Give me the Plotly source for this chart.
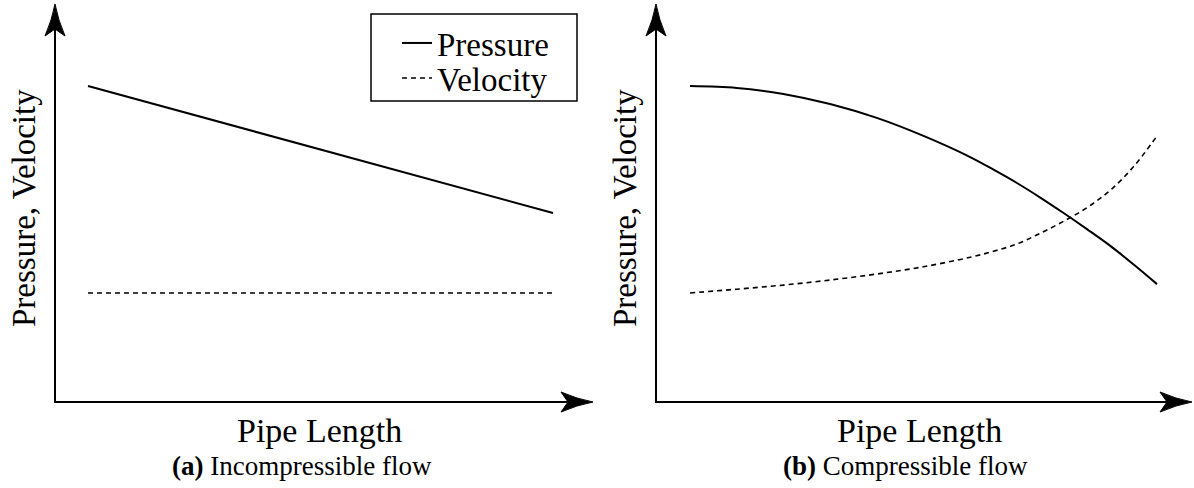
import plotly.graph_objects as go

# ---- data (arbitrary units: pipe position 0..1, quantity relative to inlet pressure) ----
length_a = [0.0, 1.0]
pressure_a = [1.0, 0.598]
velocity_a = [0.345, 0.345]

length_b = [0.0, 0.1, 0.2, 0.3, 0.4, 0.5, 0.6, 0.65, 0.7, 0.75, 0.8, 0.85, 0.9, 0.95, 1.0]
pressure_b = [1.0, 0.994, 0.975, 0.943, 0.899, 0.842, 0.775, 0.735, 0.693, 0.647, 0.598, 0.547,
              0.494, 0.435, 0.373]
velocity_b = [0.345, 0.357, 0.370, 0.386, 0.405, 0.428, 0.458, 0.477, 0.500, 0.534, 0.572, 0.615,
              0.670, 0.745, 0.842]

series_names = ["Pressure", "Velocity"]
x_title = "Pipe Length"
y_title = "Pressure, Velocity"
captions = ["<b>(a)</b> Incompressible flow", "<b>(b)</b> Compressible flow"]

# ---- page geometry (pixels) ----
W, H = 1194, 488
FONT = "'Liberation Serif', 'DejaVu Serif', serif"


def fx(px):
    return px / W


def fy(py):
    return 1 - py / H


# panel layout: axis origin, arrow tips, and pixel positions of x=0 / x=1
panels = [
    dict(x0=55, xtip=593, y0=402, ytip=4, u0=88, u1=553),
    dict(x0=656, xtip=1192, y0=402, ytip=4, u0=690, u1=1157),
]
Y_UNIT = 316  # pixels per unit on the vertical axis

fig = go.Figure()

data = [(length_a, pressure_a, velocity_a), (length_b, pressure_b, velocity_b)]
for i, (xs, p, v) in enumerate(data):
    ax = "x" if i == 0 else "x2"
    ay = "y" if i == 0 else "y2"
    fig.add_trace(go.Scatter(
        x=xs, y=p, mode="lines", name=series_names[0], xaxis=ax, yaxis=ay, legend="legend",
        line=dict(color="black", width=2, shape="spline", smoothing=1.0), showlegend=(i == 0)))
    fig.add_trace(go.Scatter(
        x=xs, y=v, mode="lines", name=series_names[1], xaxis=ax, yaxis=ay, legend="legend2",
        line=dict(color="black", width=1.6, dash="5px,4px", shape="spline", smoothing=1.0),
        showlegend=(i == 0)))

shapes = []
annotations = []
for i, pn in enumerate(panels):
    sfx = "" if i == 0 else "2"
    upx = pn["u1"] - pn["u0"]
    xr = [-(pn["u0"] - pn["x0"]) / upx, (pn["xtip"] - pn["u0"]) / upx]
    yr = [0, (pn["y0"] - pn["ytip"]) / Y_UNIT]
    axis_common = dict(showgrid=False, zeroline=False, showticklabels=False,
                       ticks="", showline=False, fixedrange=True)
    fig.layout["xaxis" + sfx] = dict(domain=[fx(pn["x0"]), fx(pn["xtip"])], range=xr,
                                     anchor="y" + sfx, **axis_common)
    fig.layout["yaxis" + sfx] = dict(domain=[fy(pn["y0"]), fy(pn["ytip"])], range=yr,
                                     anchor="x" + sfx, **axis_common)

    # axis lines
    shapes.append(dict(type="line", xref="paper", yref="paper",
                       x0=fx(pn["x0"]), y0=fy(pn["y0"]), x1=fx(pn["xtip"] - 20), y1=fy(pn["y0"]),
                       line=dict(color="black", width=2)))
    shapes.append(dict(type="line", xref="paper", yref="paper",
                       x0=fx(pn["x0"]), y0=fy(pn["y0"] + 1), x1=fx(pn["x0"]), y1=fy(pn["ytip"] + 20),
                       line=dict(color="black", width=2)))

    # stealth-style arrowheads
    tx, ty = pn["xtip"], pn["y0"]
    path_x = (f"M {fx(tx)},{fy(ty)} "
              f"Q {fx(tx - 16)},{fy(ty - 3)} {fx(tx - 32)},{fy(ty - 10)} "
              f"L {fx(tx - 25)},{fy(ty)} "
              f"L {fx(tx - 32)},{fy(ty + 10)} "
              f"Q {fx(tx - 16)},{fy(ty + 3)} {fx(tx)},{fy(ty)} Z")
    shapes.append(dict(type="path", xref="paper", yref="paper", path=path_x,
                       fillcolor="black", line=dict(color="black", width=1)))
    tx, ty = pn["x0"], pn["ytip"]
    path_y = (f"M {fx(tx)},{fy(ty)} "
              f"Q {fx(tx - 3)},{fy(ty + 16)} {fx(tx - 10)},{fy(ty + 32)} "
              f"L {fx(tx)},{fy(ty + 25)} "
              f"L {fx(tx + 10)},{fy(ty + 32)} "
              f"Q {fx(tx + 3)},{fy(ty + 16)} {fx(tx)},{fy(ty)} Z")
    shapes.append(dict(type="path", xref="paper", yref="paper", path=path_y,
                       fillcolor="black", line=dict(color="black", width=1)))

    # axis titles
    annotations.append(dict(text=y_title, xref="paper", yref="paper",
                            x=fx(pn["x0"] - 31), y=fy(208), xanchor="center", yanchor="middle",
                            textangle=-90, showarrow=False,
                            font=dict(family=FONT, size=33, color="black")))
    annotations.append(dict(text=x_title, xref="paper", yref="paper",
                            x=fx((pn["x0"] + pn["xtip"]) / 2 - 5), y=fy(430),
                            xanchor="center", yanchor="middle", showarrow=False,
                            font=dict(family=FONT, size=34, color="black")))
    annotations.append(dict(text=captions[i], xref="paper", yref="paper",
                            x=fx(302 if i == 0 else 905), y=fy(466),
                            xanchor="center", yanchor="middle", showarrow=False,
                            font=dict(family=FONT, size=27, color="black")))

# legend frame
shapes.append(dict(type="rect", xref="paper", yref="paper",
                   x0=fx(371), y0=fy(14), x1=fx(577), y1=fy(101),
                   line=dict(color="black", width=1.5), fillcolor="white", layer="below"))

legend_common = dict(xanchor="left", yanchor="middle", bgcolor="rgba(0,0,0,0)",
                     borderwidth=0, font=dict(family=FONT, size=33, color="black"),
                     itemwidth=30)

fig.update_layout(
    width=W, height=H,
    margin=dict(l=0, r=0, t=0, b=0),
    paper_bgcolor="white", plot_bgcolor="white",
    shapes=shapes, annotations=annotations,
    legend=dict(x=fx(397), y=fy(43), **legend_common),
    legend2=dict(x=fx(397), y=fy(78), **legend_common),
)

fig.write_html("out.html")
